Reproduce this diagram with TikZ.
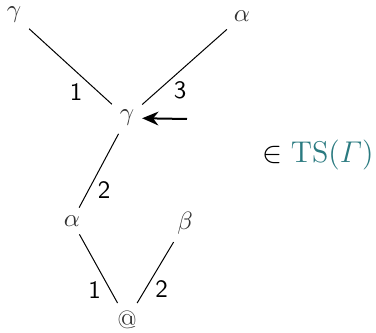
\documentclass[tikz,border=0pt]{standalone}
\usepackage{amsmath}
\usepackage{xcolor}
\usetikzlibrary{arrows.meta}
\definecolor{tsteal}{RGB}{42,122,128}

\begin{document}
\begin{tikzpicture}[
    x=0.4pt, y=-0.4pt,
    sym/.style={inner sep=3pt, text=black!80},
    lbl/.style={inner sep=1pt, font=\sffamily},
    arrow/.style={-{Stealth[length=6.5pt,width=5.5pt]}, thick}
]
    \useasboundingbox (0,0) rectangle (376,333);

    % tree, root at the bottom
    \node[sym] (gtop) at (14,15) {$\gamma$};
    \node[sym] (atop) at (242,16) {$\alpha$};
    \node[sym] (gmid) at (127,118) {$\gamma$};
    \node[sym] (aleft) at (72,221) {$\alpha$};
    \node[sym] (beta) at (185,223) {$\beta$};
    \node[sym] (root) at (127,320) {@};

    \draw (gtop) -- node[lbl, pos=0.68, below left] (l1) {1} (gmid);
    \draw (atop) -- node[lbl, pos=0.66, below right] (l3) {3} (gmid);
    \draw (gmid) -- node[lbl, pos=0.6, below right] (l2) {2} (aleft);
    \draw (aleft) -- node[lbl, pos=0.64, below left] (l1b) {1} (root);
    \draw (beta) -- node[lbl, pos=0.58, below right] (l2b) {2} (root);

    % marker
    \coordinate (tail) at (187,119);
    \draw[arrow] (tail) -- (gmid);

    \node (member) at (318,155) {\large $\in \textcolor{tsteal}{\mathrm{TS}(\varGamma)}$};
\end{tikzpicture}
\end{document}
